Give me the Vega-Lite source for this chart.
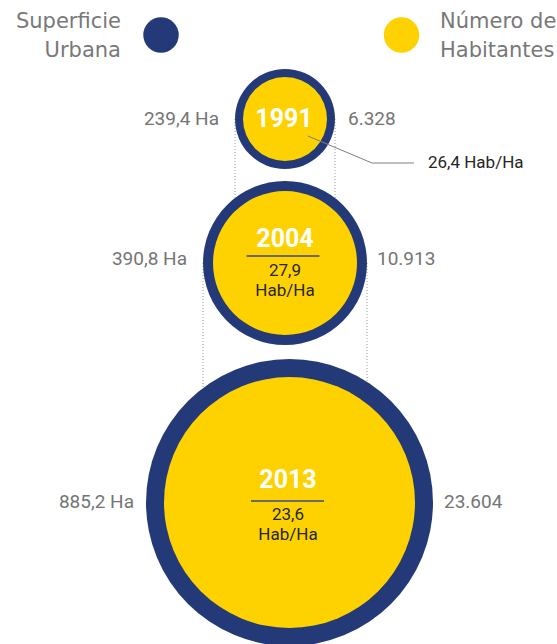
{
  "$schema": "https://vega.github.io/schema/vega-lite/v6.json",
  "width": 557,
  "height": 644,
  "autosize": "none",
  "padding": 0,
  "background": "white",
  "config": {"view": {"stroke": null}},
  "datasets": {
    "ciudad": [
      {"anio": 1991, "ha": 239.4, "hab": 6328, "etiquetaHa": "239,4 Ha", "etiquetaHab": "6.328", "densidad": "26,4 Hab/Ha"},
      {"anio": 2004, "ha": 390.8, "hab": 10913, "etiquetaHa": "390,8 Ha", "etiquetaHab": "10.913", "densidad": "27,9\nHab/Ha"},
      {"anio": 2013, "ha": 885.2, "hab": 23604, "etiquetaHa": "885,2 Ha", "etiquetaHab": "23.604", "densidad": "23,6\nHab/Ha"}
    ],
    "leyenda": [
      {"serie": "Superficie Urbana", "texto": "Superficie\nUrbana"},
      {"serie": "Número de Habitantes", "texto": "Número de\nHabitantes"}
    ],
    "guia": [{"paso": 0}, {"paso": 1}, {"paso": 2}]
  },
  "data": {"name": "ciudad"},
  "resolve": {"scale": {"x": "independent", "y": "independent", "size": "independent", "color": "independent"}},
  "layer": [
    {
      "transform": [
        {"window": [{"op": "lead", "field": "anio", "as": "sig"}], "sort": [{"field": "anio"}]},
        {"filter": "datum.sig != null"}
      ],
      "mark": {"type": "rule", "color": "#9a9a9a", "strokeDash": [1, 2], "strokeWidth": 1},
      "encoding": {
        "x": {"field": "ha", "type": "quantitative", "scale": {"domain": [239.4, 390.8], "range": [235, 203], "nice": false, "zero": false}, "axis": null},
        "y": {"field": "anio", "type": "quantitative", "scale": {"domain": [1991, 2004, 2013], "range": [119, 263, 502.5], "nice": false, "zero": false}, "axis": null},
        "y2": {"field": "sig"}
      }
    },
    {
      "transform": [
        {"window": [{"op": "lead", "field": "anio", "as": "sig"}], "sort": [{"field": "anio"}]},
        {"filter": "datum.sig != null"}
      ],
      "mark": {"type": "rule", "color": "#9a9a9a", "strokeDash": [1, 2], "strokeWidth": 1},
      "encoding": {
        "x": {"field": "ha", "type": "quantitative", "scale": {"domain": [239.4, 390.8], "range": [335, 367], "nice": false, "zero": false}, "axis": null},
        "y": {"field": "anio", "type": "quantitative", "scale": {"domain": [1991, 2004, 2013], "range": [119, 263, 502.5], "nice": false, "zero": false}, "axis": null},
        "y2": {"field": "sig"}
      }
    },
    {
      "mark": {"type": "point", "filled": true, "shape": "circle", "opacity": 1, "color": "#243a78", "strokeWidth": 0},
      "encoding": {
        "x": {"field": "anio", "type": "quantitative", "scale": {"domain": [1991, 2004, 2013], "range": [285, 285, 289.5], "nice": false, "zero": false}, "axis": null},
        "y": {"field": "anio", "type": "quantitative", "scale": {"domain": [1991, 2004, 2013], "range": [119, 263, 502.5], "nice": false, "zero": false}, "axis": null},
        "size": {"field": "ha", "type": "quantitative", "scale": {"domain": [239.4, 390.8, 885.2], "range": [10000, 26896, 82369], "nice": false, "zero": false}, "legend": null}
      }
    },
    {
      "mark": {"type": "point", "filled": true, "shape": "circle", "opacity": 1, "color": "#fed200", "strokeWidth": 0},
      "encoding": {
        "x": {"field": "anio", "type": "quantitative", "scale": {"domain": [1991, 2004, 2013], "range": [285, 285, 289.5], "nice": false, "zero": false}, "axis": null},
        "y": {"field": "anio", "type": "quantitative", "scale": {"domain": [1991, 2004, 2013], "range": [119, 263, 502.5], "nice": false, "zero": false}, "axis": null},
        "size": {"field": "hab", "type": "quantitative", "scale": {"domain": [6328, 10913, 23604], "range": [7056, 20736, 63001], "nice": false, "zero": false}, "legend": null}
      }
    },
    {
      "mark": {"type": "text", "font": "Roboto", "fontWeight": "bold", "fontSize": 25, "color": "#ffffff", "align": "center", "baseline": "middle"},
      "encoding": {
        "text": {"field": "anio", "type": "nominal"},
        "x": {"field": "anio", "type": "quantitative", "scale": {"domain": [1991, 2004, 2013], "range": [284, 285, 288], "nice": false, "zero": false}, "axis": null},
        "y": {"field": "anio", "type": "quantitative", "scale": {"domain": [1991, 2004, 2013], "range": [119, 239, 480], "nice": false, "zero": false}, "axis": null}
      }
    },
    {
      "transform": [{"filter": "datum.anio > 1991"}],
      "mark": {"type": "tick", "orient": "horizontal", "size": 73, "thickness": 2, "color": "#6b6b6b", "opacity": 1},
      "encoding": {
        "x": {"field": "anio", "type": "quantitative", "scale": {"domain": [2004, 2013], "range": [283, 287.5], "nice": false, "zero": false}, "axis": null},
        "y": {"field": "anio", "type": "quantitative", "scale": {"domain": [2004, 2013], "range": [256, 501], "nice": false, "zero": false}, "axis": null}
      }
    },
    {
      "transform": [{"filter": "datum.anio > 1991"}],
      "mark": {"type": "text", "font": "Roboto", "fontSize": 17, "color": "#262626", "align": "center", "baseline": "alphabetic", "lineBreak": "\n", "lineHeight": 20},
      "encoding": {
        "text": {"field": "densidad", "type": "nominal"},
        "x": {"field": "anio", "type": "quantitative", "scale": {"domain": [2004, 2013], "range": [285, 288], "nice": false, "zero": false}, "axis": null},
        "y": {"field": "anio", "type": "quantitative", "scale": {"domain": [2004, 2013], "range": [276, 520], "nice": false, "zero": false}, "axis": null}
      }
    },
    {
      "data": {"name": "guia"},
      "mark": {"type": "line", "color": "#808080", "strokeWidth": 1},
      "encoding": {
        "x": {"field": "paso", "type": "quantitative", "scale": {"domain": [0, 1, 2], "range": [308, 372, 414], "nice": false, "zero": false}, "axis": null},
        "y": {"field": "paso", "type": "quantitative", "scale": {"domain": [0, 1, 2], "range": [136, 163, 163], "nice": false, "zero": false}, "axis": null}
      }
    },
    {
      "transform": [{"filter": "datum.anio == 1991"}],
      "mark": {"type": "text", "font": "Roboto", "fontSize": 17, "color": "#262626", "align": "left", "baseline": "middle"},
      "encoding": {
        "text": {"field": "densidad", "type": "nominal"},
        "x": {"field": "anio", "type": "quantitative", "scale": {"domain": [1991, 2013], "range": [428, 450], "nice": false, "zero": false}, "axis": null},
        "y": {"field": "anio", "type": "quantitative", "scale": {"domain": [1991, 2013], "range": [163, 200], "nice": false, "zero": false}, "axis": null}
      }
    },
    {
      "mark": {"type": "text", "font": "Roboto", "fontSize": 19, "color": "#757575", "align": "right", "baseline": "middle"},
      "encoding": {
        "text": {"field": "etiquetaHa", "type": "nominal"},
        "x": {"field": "anio", "type": "quantitative", "scale": {"domain": [1991, 2004, 2013], "range": [219, 187, 134], "nice": false, "zero": false}, "axis": null},
        "y": {"field": "anio", "type": "quantitative", "scale": {"domain": [1991, 2004, 2013], "range": [119, 258.5, 502], "nice": false, "zero": false}, "axis": null}
      }
    },
    {
      "mark": {"type": "text", "font": "Roboto", "fontSize": 19, "color": "#757575", "align": "left", "baseline": "middle"},
      "encoding": {
        "text": {"field": "etiquetaHab", "type": "nominal"},
        "x": {"field": "anio", "type": "quantitative", "scale": {"domain": [1991, 2004, 2013], "range": [348, 377, 444], "nice": false, "zero": false}, "axis": null},
        "y": {"field": "anio", "type": "quantitative", "scale": {"domain": [1991, 2004, 2013], "range": [119, 258.5, 502], "nice": false, "zero": false}, "axis": null}
      }
    },
    {
      "data": {"name": "leyenda"},
      "mark": {"type": "point", "filled": true, "shape": "circle", "size": 1260, "opacity": 1, "strokeWidth": 0},
      "encoding": {
        "color": {"field": "serie", "type": "nominal", "scale": {"domain": ["Superficie Urbana", "Número de Habitantes"], "range": ["#243a78", "#fed200"]}, "legend": null},
        "x": {"field": "serie", "type": "nominal", "scale": {"type": "point", "domain": ["Superficie Urbana", "Número de Habitantes"], "range": [161, 401.5], "padding": 0}, "axis": null},
        "y": {"field": "serie", "type": "nominal", "scale": {"type": "point", "domain": ["Superficie Urbana", "Número de Habitantes"], "range": [35, 35], "padding": 0}, "axis": null}
      }
    },
    {
      "data": {"name": "leyenda"},
      "transform": [{"filter": "datum.serie == 'Superficie Urbana'"}],
      "mark": {"type": "text", "font": "DejaVu Sans", "fontSize": 21, "color": "#787878", "align": "right", "baseline": "alphabetic", "lineBreak": "\n", "lineHeight": 28.5},
      "encoding": {
        "text": {"field": "texto", "type": "nominal"},
        "x": {"field": "serie", "type": "nominal", "scale": {"type": "point", "domain": ["Superficie Urbana", "Número de Habitantes"], "range": [121, 440], "padding": 0}, "axis": null},
        "y": {"field": "serie", "type": "nominal", "scale": {"type": "point", "domain": ["Superficie Urbana", "Número de Habitantes"], "range": [28, 28], "padding": 0}, "axis": null}
      }
    },
    {
      "data": {"name": "leyenda"},
      "transform": [{"filter": "datum.serie == 'Número de Habitantes'"}],
      "mark": {"type": "text", "font": "DejaVu Sans", "fontSize": 21, "color": "#787878", "align": "left", "baseline": "alphabetic", "lineBreak": "\n", "lineHeight": 28.5},
      "encoding": {
        "text": {"field": "texto", "type": "nominal"},
        "x": {"field": "serie", "type": "nominal", "scale": {"type": "point", "domain": ["Superficie Urbana", "Número de Habitantes"], "range": [121, 440], "padding": 0}, "axis": null},
        "y": {"field": "serie", "type": "nominal", "scale": {"type": "point", "domain": ["Superficie Urbana", "Número de Habitantes"], "range": [28, 28], "padding": 0}, "axis": null}
      }
    }
  ]
}
